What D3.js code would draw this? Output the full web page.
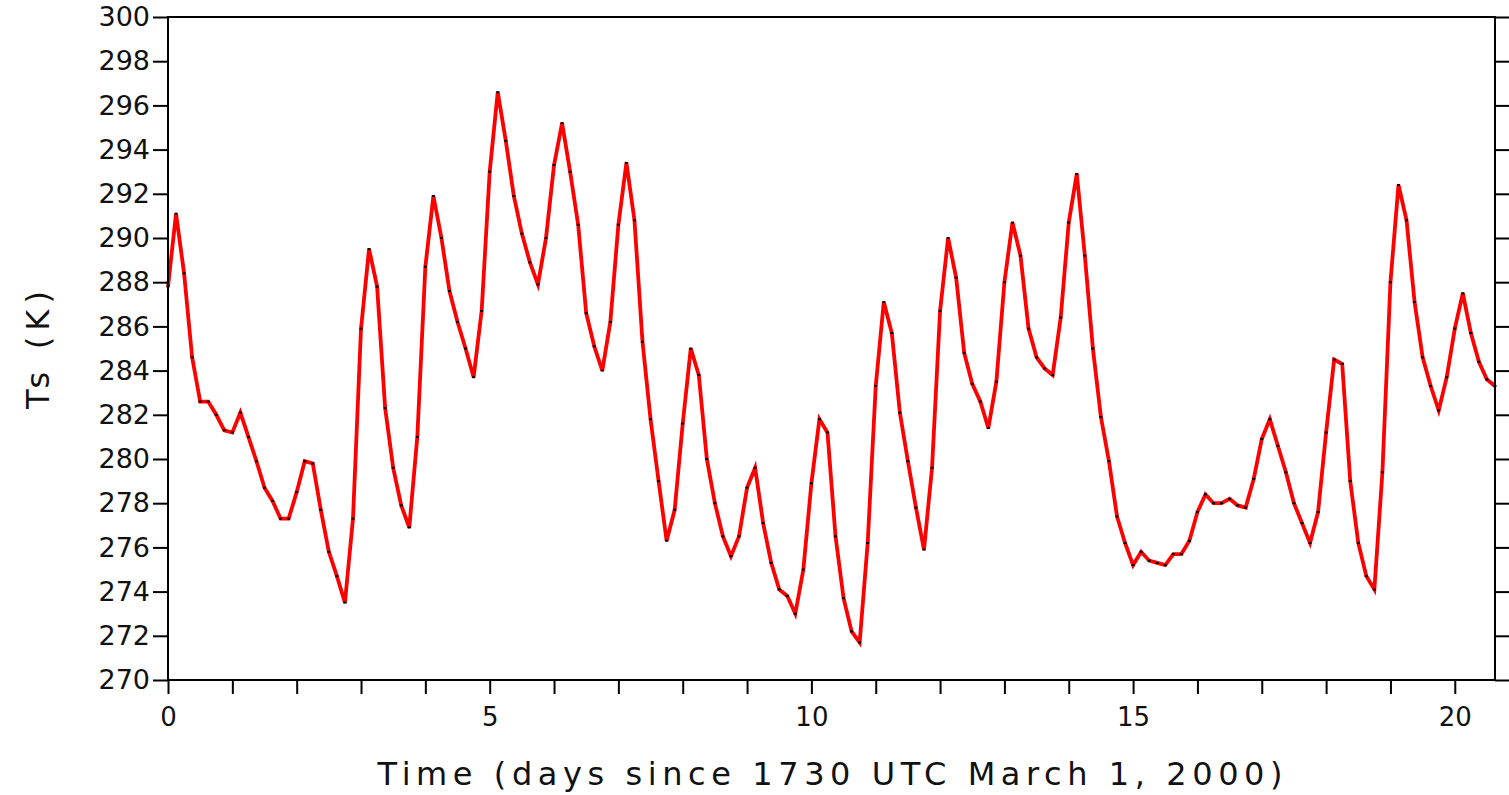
<!DOCTYPE html>
<html>
<head>
<meta charset="utf-8">
<script src="https://cdn.jsdelivr.net/npm/d3@7/dist/d3.min.js"></script>
<style>
  html, body { margin: 0; padding: 0; background: #fff; }
  svg { display: block; }
  text { font-family: "DejaVu Sans", sans-serif; fill: #111; }
</style>
</head>
<body>
<svg id="chart" width="1509" height="795"></svg>
<script>
// Surface temperature, sampled every 3 hours
const sampleStepDays = 0.125;
const tsKelvin = [
  287.8, 291.1, 288.4, 284.6, 282.6, 282.6, 282.0, 281.3,
  281.2, 282.1, 281.0, 279.9, 278.7, 278.1, 277.3, 277.3,
  278.5, 279.9, 279.8, 277.7, 275.8, 274.7, 273.5, 277.3,
  285.9, 289.5, 287.8, 282.3, 279.6, 277.9, 276.9, 281.0,
  288.7, 291.9, 290.0, 287.6, 286.2, 285.0, 283.7, 286.7,
  293.0, 296.6, 294.4, 291.9, 290.2, 288.9, 287.9, 290.0,
  293.3, 295.2, 293.0, 290.6, 286.6, 285.1, 284.0, 286.2,
  290.6, 293.4, 290.8, 285.3, 281.8, 279.0, 276.3, 277.7,
  281.6, 285.0, 283.8, 280.0, 278.0, 276.5, 275.6, 276.5,
  278.7, 279.6, 277.1, 275.3, 274.1, 273.8, 273.0, 275.0,
  278.9, 281.8, 281.2, 276.5, 273.7, 272.2, 271.7, 276.2,
  283.3, 287.1, 285.7, 282.1, 279.9, 277.8, 275.9, 279.6,
  286.7, 290.0, 288.2, 284.8, 283.4, 282.6, 281.4, 283.5,
  288.0, 290.7, 289.2, 285.9, 284.6, 284.1, 283.8, 286.4,
  290.7, 292.9, 289.2, 285.0, 281.9, 279.9, 277.4, 276.2,
  275.2, 275.8, 275.4, 275.3, 275.2, 275.7, 275.7, 276.3,
  277.6, 278.4, 278.0, 278.0, 278.2, 277.9, 277.8, 279.1,
  280.9, 281.8, 280.6, 279.4, 278.0, 277.1, 276.2, 277.6,
  281.2, 284.5, 284.3, 279.0, 276.2, 274.7, 274.1, 279.4,
  288.0, 292.4, 290.8, 287.1, 284.6, 283.3, 282.2, 283.7,
  285.9, 287.5, 285.7, 284.4, 283.6, 283.3
];
const xTickLabels = [0, 5, 10, 15, 20];
const xMinorTicks = d3.range(0, 21);
const yTickValues = d3.range(270, 301, 2);
const xTitle = "Time (days since 1730 UTC March 1, 2000)";
const yTitle = "Ts (K)";

const series = tsKelvin.map((v, i) => ({ t: i * sampleStepDays, v }));

const svg = d3.select("#chart");
const plot = { left: 168, right: 1495, top: 17, bottom: 680 };

const x = d3.scaleLinear()
  .domain([0, (tsKelvin.length - 1) * sampleStepDays])
  .range([plot.left, plot.right]);
const y = d3.scaleLinear().domain([270, 300]).range([plot.bottom, plot.top]);

// Data line
const line = d3.line().x(d => x(d.t)).y(d => y(d.v));
svg.append("path")
  .datum(series)
  .attr("d", line)
  .attr("fill", "none")
  .attr("stroke", "#ff0000")
  .attr("stroke-width", 3.8)
  .attr("stroke-linejoin", "miter");

// Sample markers
svg.append("g").selectAll("rect")
  .data(series)
  .join("rect")
  .attr("x", d => x(d.t) - 1.5)
  .attr("y", d => y(d.v) - 1)
  .attr("width", 3)
  .attr("height", 2)
  .attr("fill", "#000");

// Frame
svg.append("rect")
  .attr("x", plot.left).attr("y", plot.top)
  .attr("width", plot.right - plot.left)
  .attr("height", plot.bottom - plot.top)
  .attr("fill", "none").attr("stroke", "#000").attr("stroke-width", 2);

// Left axis
const yLeft = svg.append("g")
  .attr("transform", `translate(${plot.left},0)`)
  .call(d3.axisLeft(y).tickValues(yTickValues).tickSize(15).tickPadding(3).tickFormat(d3.format("d")));
yLeft.select(".domain").remove();
yLeft.selectAll(".tick line").attr("stroke", "#000").attr("stroke-width", 2);
yLeft.selectAll(".tick text")
  .style("font-family", "'DejaVu Sans', sans-serif")
  .style("font-size", "27px")
  .attr("fill", "#111");

// Right axis (ticks only)
const yRight = svg.append("g")
  .attr("transform", `translate(${plot.right},0)`)
  .call(d3.axisRight(y).tickValues(yTickValues).tickSize(14).tickFormat(""));
yRight.select(".domain").remove();
yRight.selectAll(".tick line").attr("stroke", "#000").attr("stroke-width", 2);

// Bottom axis: daily ticks, labels every 5 days
const xAxis = svg.append("g")
  .attr("transform", `translate(0,${plot.bottom})`)
  .call(d3.axisBottom(x).tickValues(xMinorTicks).tickSize(14).tickPadding(14)
    .tickFormat(d => xTickLabels.includes(d) ? d3.format("d")(d) : ""));
xAxis.select(".domain").remove();
xAxis.selectAll(".tick line").attr("stroke", "#000").attr("stroke-width", 2);
xAxis.selectAll(".tick text")
  .style("font-family", "'DejaVu Sans', sans-serif")
  .style("font-size", "26px")
  .attr("fill", "#111");

// Axis titles
svg.append("text")
  .attr("x", 830).attr("y", 785)
  .attr("text-anchor", "middle")
  .attr("textLength", 905)
  .attr("lengthAdjust", "spacing")
  .style("font-size", "32px")
  .text(xTitle);

svg.append("text")
  .attr("transform", "translate(49,350) rotate(-90)")
  .attr("text-anchor", "middle")
  .attr("textLength", 118)
  .attr("lengthAdjust", "spacing")
  .style("font-size", "32px")
  .text(yTitle);
</script>
</body>
</html>
